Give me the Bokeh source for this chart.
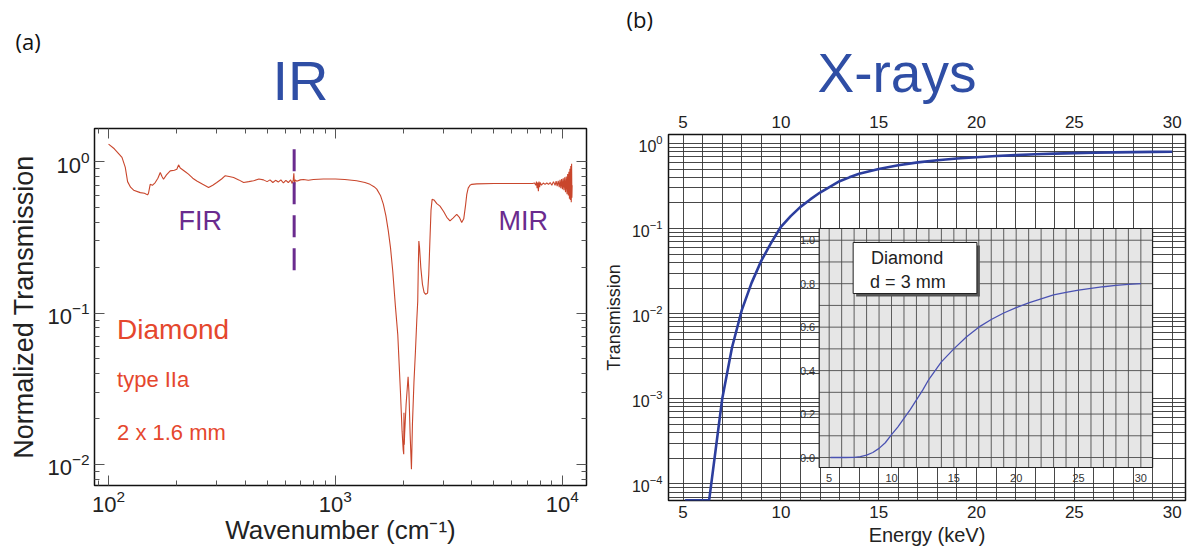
import math
from bokeh.plotting import figure
from bokeh.layouts import row, column
from bokeh.models import (Range1d, LinearScale, LogAxis, LinearAxis, FixedTicker,
                          LogTickFormatter, CustomJSTickFormatter, Label, Title)
from bokeh.core.properties import value
from bokeh.embed import file_html
from bokeh.resources import INLINE

FONT = "Liberation Sans"

# ---------------- data: panel (a) IR transmission of diamond ----------------
ir_wavenumber = [100, 106, 111, 114.6, 118.5, 121.3, 125, 129, 138, 144, 148.6, 150, 152.6, 156,
                 160.6, 165, 169, 172, 174.7, 180, 187, 195, 200, 203.5, 207, 210.6, 218, 225, 235,
                 245, 260, 276, 288, 300, 315, 327, 340, 356, 375, 394, 415, 436, 460, 482, 500,
                 515, 530, 545, 560, 575, 590, 605, 620, 635, 645, 652, 656, 660, 665, 675, 700,
                 723, 760, 800, 885, 1000, 1100, 1241, 1350, 1421, 1480, 1522, 1580, 1627, 1670,
                 1711, 1750, 1790, 1840, 1884, 1935, 1968, 1990, 2001, 2006, 2012, 2020, 2050,
                 2092, 2110, 2135, 2164, 2175, 2186, 2220, 2254, 2285, 2307, 2320, 2333, 2350,
                 2380, 2420, 2460, 2500, 2550, 2580, 2610, 2640, 2670, 2720, 2800, 2892, 3000,
                 3100, 3200, 3300, 3427, 3520, 3605, 3680, 3750, 3795, 3850, 3920, 3992, 4200,
                 5000, 6000, 7000, 7400, 7550, 7650, 7700, 7750, 7800, 7850, 7900, 7950, 8000,
                 8100, 8250, 8400, 8550, 8700, 8850, 9000, 9150, 9300, 9400, 9500, 9600, 9700,
                 9780, 9860, 9940, 10020, 10100, 10180, 10260, 10340, 10420, 10500, 10570,
                 10640, 10700, 10760, 10810, 10860, 10910, 10960, 11000, 11030, 11060]
ir_transmission = [1.31, 1.22, 1.13, 1.07, 0.92, 0.74, 0.68, 0.65, 0.626, 0.62, 0.605, 0.62, 0.71,
                   0.70, 0.73, 0.78, 0.85, 0.80, 0.768, 0.82, 0.872, 0.88, 0.894, 0.955, 0.91,
                   0.894, 0.86, 0.829, 0.78, 0.748, 0.71, 0.676, 0.70, 0.73, 0.77, 0.81, 0.80,
                   0.787, 0.76, 0.73, 0.74, 0.75, 0.77, 0.76, 0.74, 0.76, 0.73, 0.755, 0.735,
                   0.76, 0.725, 0.755, 0.73, 0.76, 0.72, 0.76, 0.84, 0.70, 0.76, 0.745, 0.76,
                   0.765, 0.755, 0.765, 0.77, 0.77, 0.765, 0.75, 0.73, 0.71, 0.685, 0.66, 0.60,
                   0.525, 0.44, 0.35, 0.27, 0.19, 0.11, 0.072, 0.0305, 0.0166, 0.0125, 0.0117,
                   0.022, 0.0135, 0.016, 0.025, 0.038, 0.030, 0.016, 0.0093, 0.013, 0.0184,
                   0.035, 0.056, 0.09, 0.12, 0.20, 0.30, 0.27, 0.20, 0.155, 0.137, 0.133, 0.136,
                   0.18, 0.30, 0.48, 0.565, 0.56, 0.53, 0.51, 0.47, 0.43, 0.407, 0.425, 0.45,
                   0.43, 0.397, 0.42, 0.52, 0.61, 0.67, 0.70, 0.71, 0.715, 0.72, 0.72, 0.72,
                   0.72, 0.725, 0.70, 0.74, 0.67, 0.73, 0.64, 0.74, 0.68, 0.73, 0.70, 0.725,
                   0.71, 0.725, 0.71, 0.73, 0.70, 0.74, 0.70, 0.745, 0.69, 0.75, 0.68, 0.76,
                   0.67, 0.77, 0.66, 0.78, 0.65, 0.79, 0.63, 0.80, 0.61, 0.83, 0.60, 0.86, 0.57,
                   0.90, 0.56, 0.94, 0.54, 0.97, 0.58, 0.70]
fir_mir_boundary_wn = [658, 658]
fir_mir_boundary_t = [1.21, 0.181]
ir_x_ticks = [100, 1000, 10000]
ir_y_ticks = [0.01, 0.1, 1.0]

# ---------------- data: panel (b) X-ray transmission, diamond d = 3 mm ----------------
xray_energy = [5.1, 6.33, 7.0, 7.5, 8.0, 8.5, 9.0, 9.5, 10.0, 10.5, 11.0, 11.5, 12.0, 12.5, 13.0,
               13.5, 14.0, 15.0, 16.0, 17.0, 18.0, 19.0, 20.0, 21.0, 22.0, 23.0, 24.0, 25.0, 26.0,
               27.0, 28.0, 29.0, 30.0]
xray_transmission = [6.4e-5, 6.4e-5, 1.0e-3, 4.0e-3, 0.011, 0.023, 0.042, 0.068, 0.105, 0.14,
                     0.18, 0.22, 0.265, 0.31, 0.36, 0.40, 0.44, 0.50, 0.555, 0.60, 0.635, 0.665,
                     0.69, 0.712, 0.73, 0.748, 0.76, 0.77, 0.778, 0.786, 0.792, 0.797, 0.80]
energy_ticks = [5, 10, 15, 20, 25, 30]
xray_y_ticks = [1e-4, 1e-3, 1e-2, 1e-1, 1.0]
inset_y_ticks = [0.0, 0.2, 0.4, 0.6, 0.8, 1.0]
inset_y_tick_labels = ["0.0", "0.2", "0.4", "0.6", "0.8", "1.0"]
inset_x_tick_labels = ["5", "10", "15", "20", "25", "30"]

TITLE_BLUE = "#2f4ea5"
IR_RED = "#c9462c"
TXT_RED = "#e5472d"
PURPLE = "#6a2b8e"
AX_TXT = "#222222"

# ======================= panel (a) =======================
pa = figure(width=600, height=550, x_axis_type="log", y_axis_type="log",
            x_range=Range1d(86.7, 12795), y_range=Range1d(0.00726, 1.661),
            output_backend="svg", toolbar_location=None, title_location=None,
            min_border_left=94, min_border_right=14, min_border_top=128, min_border_bottom=65)
pa.outline_line_color = "#111111"
pa.outline_line_width = 1.5
pa.grid.visible = False


def minor_log(lo_exp, hi_exp):
    return [m * 10 ** e for e in range(lo_exp, hi_exp) for m in range(2, 10)]


xt = FixedTicker(ticks=ir_x_ticks, minor_ticks=minor_log(1, 5))
yt = FixedTicker(ticks=ir_y_ticks, minor_ticks=minor_log(-3, 1))


def style_in(ax):
    ax.major_tick_in = 10
    ax.major_tick_out = 0
    ax.minor_tick_in = 5
    ax.minor_tick_out = 0
    ax.major_tick_line_color = "#555555"
    ax.minor_tick_line_color = "#555555"
    ax.axis_line_color = None
    ax.major_label_text_font = FONT
    ax.major_label_text_font_size = "22px"
    ax.major_label_text_color = AX_TXT
    ax.axis_label_text_font = FONT
    ax.axis_label_text_font_style = "normal"
    ax.axis_label_text_color = AX_TXT


pa.xaxis[0].ticker = xt
pa.yaxis[0].ticker = yt
pa.xaxis[0].formatter = LogTickFormatter()
pa.yaxis[0].formatter = LogTickFormatter()
style_in(pa.xaxis[0])
style_in(pa.yaxis[0])
pa.xaxis[0].major_label_standoff = 4
pa.yaxis[0].major_label_standoff = 5
pa.xaxis[0].axis_label = "Wavenumber (cm\u207b\u00b9)"
pa.xaxis[0].axis_label_text_font_size = "26px"
pa.xaxis[0].axis_label_standoff = 0
pa.yaxis[0].axis_label = "Normalized Transmission"
pa.yaxis[0].axis_label_text_font_size = "27px"
pa.yaxis[0].axis_label_standoff = 5

blank = CustomJSTickFormatter(code="return ''")
top_a = LogAxis(ticker=xt, formatter=blank)
right_a = LogAxis(ticker=yt, formatter=blank)
style_in(top_a)
style_in(right_a)
top_a.major_label_text_font_size = "1px"
right_a.major_label_text_font_size = "1px"
top_a.major_label_standoff = 0
right_a.major_label_standoff = 0
pa.add_layout(top_a, "above")
pa.add_layout(right_a, "right")

pa.add_layout(Title(text="IR", align="left", offset=178, standoff=34, text_font=FONT,
                    text_font_size="56px", text_font_style="normal", text_color=TITLE_BLUE),
              "above")
pa.add_layout(Title(text="(a)", align="left", offset=-79, standoff=-52, text_font="Open Sans",
                    text_font_size="22px", text_font_style="normal", text_color="#111111"),
              "above")

pa.line(ir_wavenumber, ir_transmission, line_color=IR_RED, line_width=1.1)
pa.line(fir_mir_boundary_wn, fir_mir_boundary_t, line_color=PURPLE, line_width=3,
        line_dash="22 11")

for txt, x, y, size, col, align in [("FIR", 253.8, 0.405, "27px", PURPLE, "center"),
                                    ("MIR", 6736, 0.405, "27px", PURPLE, "center"),
                                    ("Diamond", 109, 0.0785, "28px", TXT_RED, "left"),
                                    ("type IIa", 109, 0.0365, "22px", TXT_RED, "left"),
                                    ("2 x 1.6 mm", 109, 0.0162, "22px", TXT_RED, "left")]:
    pa.add_layout(Label(x=x, y=y, text=txt, text_align=align, text_baseline="middle",
                        text_font=FONT, text_font_size=size, text_color=col))

# ======================= panel (b) =======================
FW, FH = 518, 366
pb = figure(width=590, height=550, y_axis_type="log",
            x_range=Range1d(4.254, 30.68), y_range=Range1d(6.37e-5, 1.275),
            output_backend="svg", toolbar_location=None, title_location=None,
            min_border_left=67, min_border_right=5, min_border_top=134, min_border_bottom=50)
pb.outline_line_color = "#111111"
pb.outline_line_width = 1.5

pb.xaxis[0].ticker = FixedTicker(ticks=energy_ticks)
pb.yaxis[0].ticker = FixedTicker(ticks=xray_y_ticks)
pb.yaxis[0].formatter = LogTickFormatter()


def style_b(ax, size):
    ax.major_tick_in = 0
    ax.major_tick_out = 0
    ax.minor_tick_in = 0
    ax.minor_tick_out = 0
    ax.axis_line_color = None
    ax.major_label_text_font = FONT
    ax.major_label_text_font_size = size
    ax.major_label_text_color = AX_TXT
    ax.axis_label_text_font = FONT
    ax.axis_label_text_font_style = "normal"
    ax.axis_label_text_color = AX_TXT


style_b(pb.xaxis[0], "17px")
style_b(pb.yaxis[0], "16px")
pb.xaxis[0].major_label_standoff = 5
pb.yaxis[0].major_label_standoff = 6
pb.xaxis[0].axis_label = "Energy (keV)"
pb.xaxis[0].axis_label_text_font_size = "20px"
pb.xaxis[0].axis_label_standoff = 3
pb.yaxis[0].axis_label = "Transmission"
pb.yaxis[0].axis_label_text_font_size = "18px"
pb.yaxis[0].axis_label_standoff = 5
top_b = LinearAxis(ticker=FixedTicker(ticks=energy_ticks))
style_b(top_b, "17px")
top_b.major_label_standoff = 7
pb.add_layout(top_b, "above")

pb.add_layout(Title(text="X-rays", align="left", offset=149, standoff=17, text_font=FONT,
                    text_font_size="55px", text_font_style="normal", text_color=TITLE_BLUE),
              "above")
pb.add_layout(Title(text="(b)", align="left", offset=-42, standoff=-4, text_font="Open Sans",
                    text_font_size="22px", text_font_style="normal", text_color="#111111"),
              "above")

pb.xgrid.ticker = FixedTicker(ticks=list(range(5, 31)))
pb.ygrid.ticker = FixedTicker(ticks=[m * 10 ** e for e in range(-5, 1) for m in range(1, 10)])
for g in (pb.xgrid, pb.ygrid):
    g.grid_line_color = "#333333"
    g.grid_line_width = 1
    g.grid_line_alpha = 0.9

pb.line(xray_energy, xray_transmission, line_color="#2c3e9e", line_width=2.6)

# ---- inset (linear scale), drawn through extra ranges ----
IN_X = (4.2, 30.94)          # inset data limits
IN_Y = (-0.046, 1.054)
IN_L, IN_R, IN_T, IN_B = 151, 485, 94, 333   # inset frame, px inside the main frame
kx = (IN_R - IN_L) / (IN_X[1] - IN_X[0])
ky = (IN_B - IN_T) / (IN_Y[1] - IN_Y[0])
pb.extra_x_ranges = {"ix": Range1d(IN_X[0] - IN_L / kx, IN_X[1] + (FW - IN_R) / kx)}
pb.extra_y_ranges = {"iy": Range1d(IN_Y[0] - (FH - IN_B) / ky, IN_Y[1] + IN_T / ky)}
pb.extra_y_scales = {"iy": LinearScale()}
ir = dict(x_range_name="ix", y_range_name="iy")

pb.quad(left=[IN_X[0]], right=[IN_X[1]], bottom=[IN_Y[0]], top=[IN_Y[1]],
        fill_color="#e6e6e6", line_color=None, **ir)
gx = list(range(5, 31))
pb.segment(x0=gx, y0=[IN_Y[0]] * len(gx), x1=gx, y1=[IN_Y[1]] * len(gx),
           line_color="#4d4d4d", line_width=0.9, **ir)
gy = [i / 10 for i in range(11)]
pb.segment(x0=[IN_X[0]] * len(gy), y0=gy, x1=[IN_X[1]] * len(gy), y1=gy,
           line_color="#4d4d4d", line_width=0.9, **ir)
pb.line(xray_energy, xray_transmission, line_color="#4a52b3", line_width=1.3, **ir)
pb.quad(left=[IN_X[0]], right=[IN_X[1]], bottom=[IN_Y[0]], top=[IN_Y[1]],
        fill_color=None, line_color="#222222", line_width=1.2, **ir)
tick_len = 16 / kx
pb.segment(x0=[IN_X[0] - tick_len] * len(inset_y_ticks), y0=inset_y_ticks,
           x1=[IN_X[0]] * len(inset_y_ticks), y1=inset_y_ticks,
           line_color="#555555", line_width=0.9, **ir)
pb.text(x=[IN_X[0] - 4 / kx] * len(inset_y_ticks), y=inset_y_ticks, text=inset_y_tick_labels,
        text_align="right", text_baseline="middle", text_font=value(FONT),
        text_font_size=value("11px"), text_color="#333333", **ir)
pb.text(x=energy_ticks, y=[IN_Y[0] - 10 / ky] * len(energy_ticks), text=inset_x_tick_labels,
        text_align="center", text_baseline="middle", text_font=value(FONT),
        text_font_size=value("11px"), text_color="#333333", **ir)

# legend box "Diamond / d = 3 mm"
BX0, BX1 = IN_X[0] + 34 / kx, IN_X[0] + 158 / kx
BY1, BY0 = IN_Y[1] - 14 / ky, IN_Y[1] - 65 / ky
pb.quad(left=[BX0 + 3 / kx], right=[BX1 + 3 / kx], bottom=[BY0 - 3 / ky], top=[BY1 - 3 / ky],
        fill_color="#555555", line_color=None, **ir)
pb.quad(left=[BX0], right=[BX1], bottom=[BY0], top=[BY1],
        fill_color="white", line_color="#222222", line_width=1, **ir)
pb.text(x=[BX0 + 18 / kx, BX0 + 17 / kx], y=[IN_Y[1] - 29 / ky, IN_Y[1] - 53 / ky],
        text=["Diamond", "d = 3 mm"], text_align="left", text_baseline="middle",
        text_font=value(FONT), text_font_size=value("18px"), text_color="#222222", **ir)

layout = row(column(pa), column(pb))
open("out.html", "w").write(file_html(layout, INLINE))
